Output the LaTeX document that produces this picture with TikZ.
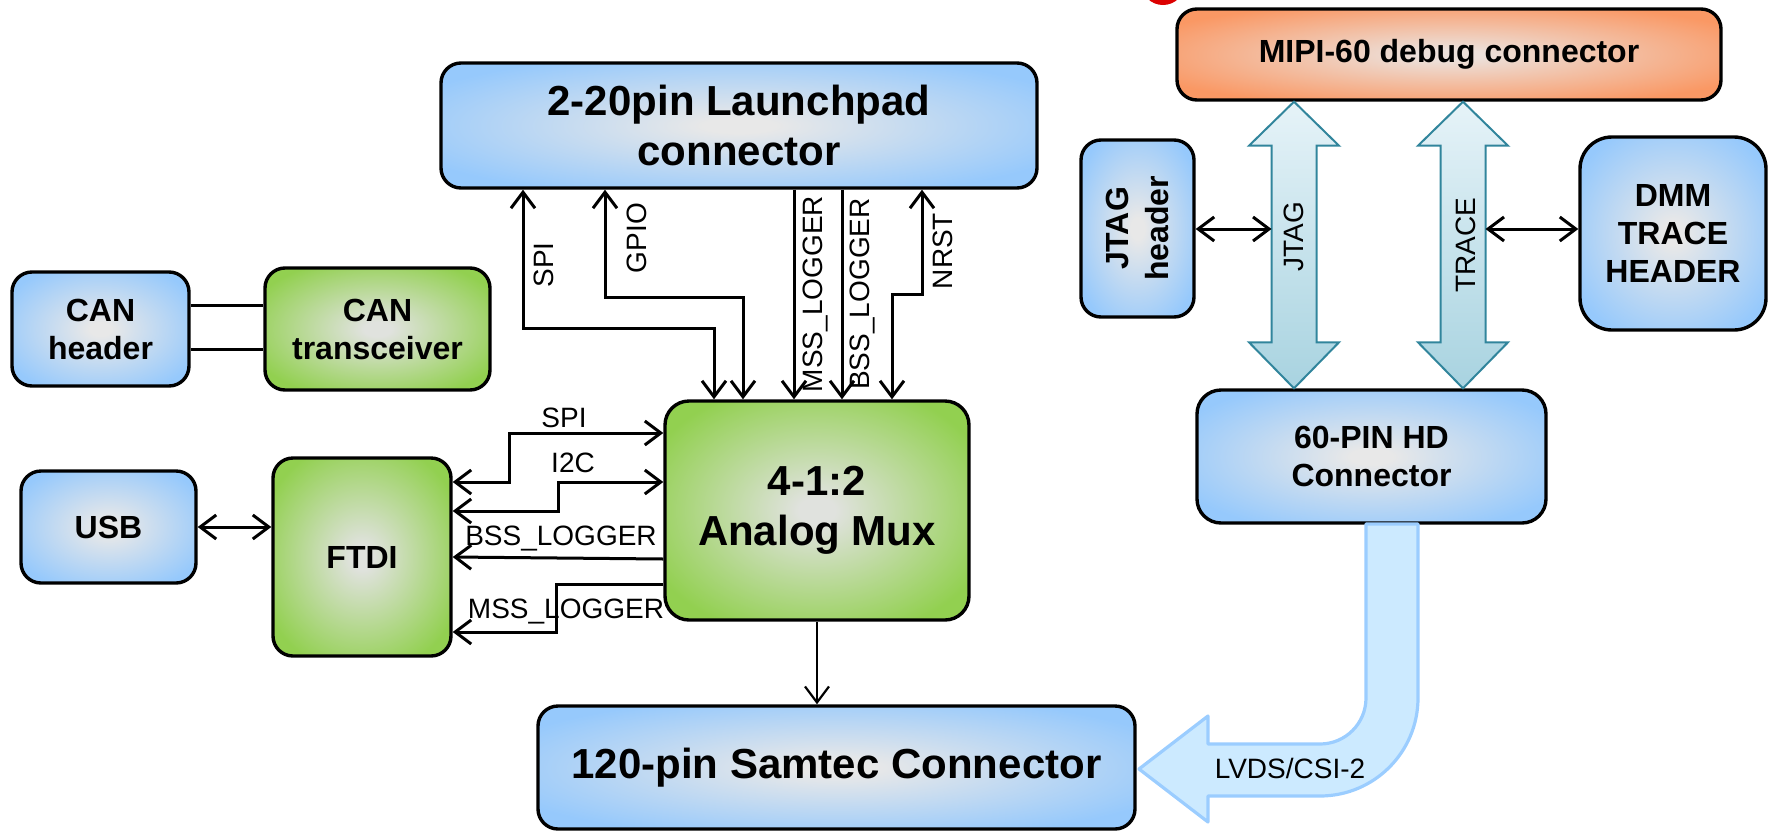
\documentclass[tikz,border=0pt]{standalone}
\usepackage{fontspec}
\setmainfont{Liberation Sans}
\usetikzlibrary{arrows.meta,calc}
\definecolor{bedge}{RGB}{150,201,252}
\definecolor{bcen}{RGB}{232,232,232}
\definecolor{gedge}{RGB}{146,208,80}
\definecolor{gcen}{RGB}{224,226,222}
\definecolor{oedge}{RGB}{250,152,100}
\definecolor{ocen}{RGB}{236,224,218}
\definecolor{arrowteal}{RGB}{49,133,156}
\definecolor{fattop}{RGB}{230,243,248}
\definecolor{fatbot}{RGB}{168,211,224}
\definecolor{lvfill}{RGB}{204,234,255}
\definecolor{lvline}{RGB}{155,205,255}
\definecolor{blobred}{RGB}{220,0,0}
\pgfdeclareradialshading{blueshade}{\pgfpoint{0bp}{0bp}}{color(0bp)=(bcen); color(3bp)=(bcen); color(30bp)=(bedge); color(100bp)=(bedge)}
\pgfdeclareradialshading{greenshade}{\pgfpoint{0bp}{0bp}}{color(0bp)=(gcen); color(3bp)=(gcen); color(30bp)=(gedge); color(100bp)=(gedge)}
\pgfdeclareradialshading{orangeshade}{\pgfpoint{0bp}{0bp}}{color(0bp)=(ocen); color(3bp)=(ocen); color(30bp)=(oedge); color(100bp)=(oedge)}
\tikzset{
  box/.style={draw, line width=1.7pt, rounded corners=10pt, align=center, inner sep=0pt,
    font=\fontsize{16}{19}\selectfont\bfseries, shade},
  bigtext/.style={font=\fontsize{21}{25}\selectfont\bfseries},
  bluebox/.style={box, shading=blueshade},
  greenbox/.style={box, shading=greenshade},
  orangebox/.style={box, shading=orangeshade},
  sig/.style={line width=1.5pt, >={Straight Barb[length=8pt,width=12pt]}},
  lab/.style={font=\fontsize{14}{16}\selectfont, inner sep=0pt},
  fat/.style={draw=arrowteal, line width=1pt, top color=fattop, bottom color=fatbot},
}
\begin{document}
\begin{tikzpicture}[x=0.5pt,y=-0.5pt]
\useasboundingbox (0,0) rectangle (1768,831);
% red blob at top edge
\fill[blobred] (1163,-17) circle (11pt);

% boxes
\node[bluebox, bigtext, minimum width=298pt, minimum height=62.5pt] (lp) at (739,125.5) {2-20pin Launchpad\\connector};
\node[orangebox, minimum width=272pt, minimum height=45.5pt] (mipi) at (1449,54.5) {MIPI-60 debug connector};
\node[bluebox, rotate=90, minimum width=88.5pt, minimum height=56.5pt, font=\fontsize{16}{20}\selectfont\bfseries] (jtagh) at (1137.5,228.5) {JTAG\\header};
\node[bluebox, rounded corners=16pt, minimum width=93pt, minimum height=96.5pt] (dmm) at (1673,233.5) {DMM\\TRACE\\HEADER};
\node[bluebox, minimum width=88.5pt, minimum height=57pt] (canh) at (100.5,329) {CAN\\header};
\node[greenbox, minimum width=112.5pt, minimum height=61pt] (cant) at (377.5,329) {CAN\\transceiver};
\node[bluebox, minimum width=87.5pt, minimum height=56pt] (usb) at (108.5,527) {USB};
\node[greenbox, minimum width=89pt, minimum height=99pt] (ftdi) at (362,557) {FTDI};
\node[greenbox, bigtext, rounded corners=12pt, minimum width=152pt, minimum height=109.5pt] (mux) at (817,510.5) {4-1:2\\Analog Mux};
\node[bluebox, rounded corners=12pt, minimum width=174.5pt, minimum height=66.5pt] (hd) at (1371.5,456.5) {60-PIN HD\\Connector};
\node[bluebox, bigtext, minimum width=298.5pt, minimum height=61.5pt] (sam) at (836.5,767.5) {120-pin Samtec Connector};

% fat double arrows JTAG / TRACE
\coordinate (jx) at (1294,0);
\coordinate (tx) at (1463,0);
\coordinate (jt) at (mipi.south -| jx);
\coordinate (jb) at (hd.north -| jx);
\coordinate (tt) at (mipi.south -| tx);
\coordinate (tb) at (hd.north -| tx);
\draw[fat] (jt) -- ++(45,44) -- ++(-22.5,0) -- ($(jb)+(22.5,-46)$) -- ++(22.5,0) -- (jb)
  -- ++(-45,-46) -- ++(22.5,0) -- ($(jt)+(-22.5,44)$) -- ++(-22.5,0) -- cycle;
\draw[fat] (tt) -- ++(45,44) -- ++(-22.5,0) -- ($(tb)+(22.5,-46)$) -- ++(22.5,0) -- (tb)
  -- ++(-45,-46) -- ++(22.5,0) -- ($(tt)+(-22.5,44)$) -- ++(-22.5,0) -- cycle;
\node[lab, rotate=90] (ljtag) at ($(jt)!0.47!(jb)$) {JTAG};
\node[lab, rotate=90] (ltrace) at ($(tt)!0.5!(tb)+(3,0)$) {TRACE};

% LVDS bent arrow
\draw[draw=lvline, fill=lvfill, line width=1.6pt, line join=round]
  (1366,524) -- (1366,698) .. controls (1366,723.4) and (1345.4,744) .. (1320,744)
  -- (1208,744) -- (1208,716) -- (1139,769) -- (1208,822) -- (1208,796) -- (1320,796)
  .. controls (1374.1,796) and (1418,752.1) .. (1418,698) -- (1418,524) -- cycle;
\node[lab, anchor=base] (llv) at (1290,778) {LVDS/CSI-2};

% CAN lines
\coordinate (can1) at (0,305);
\coordinate (can2) at (0,349);
\draw[line width=1.5pt] (canh.east |- can1) -- (cant.west |- can1);
\draw[line width=1.5pt] (canh.east |- can2) -- (cant.west |- can2);

% Launchpad <-> Mux
\coordinate (a1) at (523,328); \coordinate (a2) at (714,328);
\coordinate (b1) at (605,297); \coordinate (b2) at (743,297);
\coordinate (c1) at (794,0);   \coordinate (d1) at (842,0);
\coordinate (e1) at (922,294); \coordinate (e2) at (892,294);
\draw[sig,<->] (a1 |- lp.south) -- (a1) -- (a2) -- (a2 |- mux.north);
\draw[sig,<->] (b1 |- lp.south) -- (b1) -- (b2) -- (b2 |- mux.north);
\draw[sig,->] (c1 |- lp.south) -- (c1 |- mux.north);
\draw[sig,->] (d1 |- lp.south) -- (d1 |- mux.north);
\draw[sig,<->] (e1 |- lp.south) -- (e1) -- (e2) -- (e2 |- mux.north);
\node[lab, rotate=90] (lspi) at (544,265) {SPI};
\node[lab, rotate=90] (lgpio) at (637,238) {GPIO};
\node[lab, rotate=90] (lmss) at (815,294) {MSS\_LOGGER};
\node[lab, rotate=90] (lbss) at (862,294) {BSS\_LOGGER};
\node[lab, rotate=90] (lnrst) at (943,251) {NRST};

% FTDI <-> Mux
\coordinate (f1) at (509,482); \coordinate (f2) at (509,433);
\coordinate (g1) at (558,511); \coordinate (g2) at (558,482);
\coordinate (h1) at (0,559);   \coordinate (h2) at (0,557);
\coordinate (i1) at (556,584); \coordinate (i2) at (556,632);
\draw[sig,<->] (ftdi.east |- f1) -- (f1) -- (f2) -- (f2 -| mux.west);
\draw[sig,<->] (ftdi.east |- g1) -- (g1) -- (g2) -- (g2 -| mux.west);
\draw[sig,->] (mux.west |- h1) -- (ftdi.east |- h2);
\draw[sig,->] (mux.west |- i1) -- (i1) -- (i2) -- (ftdi.east |- i2);
\node[lab, anchor=base] (lspi2) at (564,427) {SPI};
\node[lab, anchor=base] (li2c) at (573,472) {I2C};
\node[lab, anchor=base] (lbss2) at (561,545) {BSS\_LOGGER};
\node[lab, anchor=base] (lmss2) at (566,618) {MSS\_LOGGER};

% USB <-> FTDI
\draw[sig,<->] (usb.east) -- (ftdi.west |- usb.east);
% Mux -> Samtec
\draw[sig,line width=1.1pt,->] (mux.south) -- (sam.north -| mux.south);

% JTAG header / DMM small arrows
\coordinate (jsl) at (1271.5,229);
\coordinate (tsr) at (1485.5,229);
\draw[sig,<->] (jtagh.south |- jsl) -- (jsl);
\draw[sig,<->] (tsr) -- (dmm.west |- tsr);
\end{tikzpicture}
\end{document}
